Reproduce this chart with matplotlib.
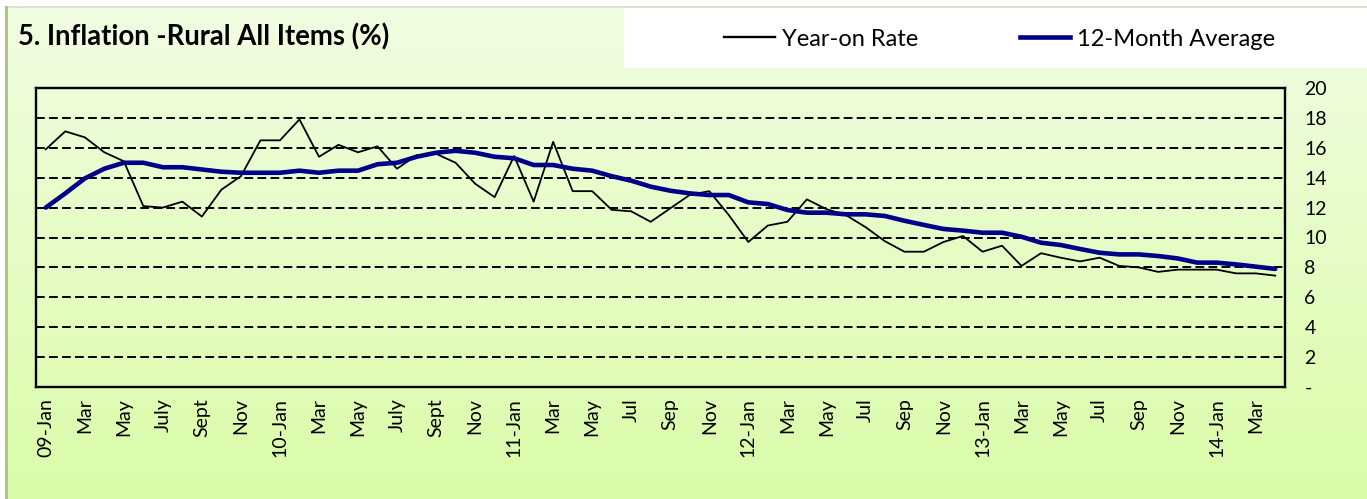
import numpy as np
import matplotlib
matplotlib.use("Agg")
from matplotlib import pyplot as plt
from matplotlib.patches import Rectangle
from matplotlib.lines import Line2D

plt.rcParams['font.family'] = ['Lato', 'DejaVu Sans']

# monthly data, Jan 2009 - Apr 2014
year_on_rate = [15.9, 17.1, 16.7, 15.7, 15.1, 12.1, 12.0, 12.4, 11.4, 13.2, 14.1, 16.5,
                16.5, 17.9, 15.4, 16.2, 15.7, 16.1, 14.6, 15.5, 15.6, 15.0, 13.6, 12.7,
                15.45, 12.4, 16.4, 13.1, 13.1, 11.85, 11.75, 11.05, 11.95, 12.85, 13.1, 11.5,
                9.7, 10.8, 11.05, 12.55, 11.9, 11.5, 10.7, 9.75, 9.05, 9.05, 9.7, 10.1,
                9.05, 9.45, 8.1, 8.95, 8.65, 8.4, 8.65, 8.1, 8.0, 7.7, 7.85, 7.85,
                7.85, 7.6, 7.6, 7.45]
avg_12m = [12.0, 12.95, 13.95, 14.6, 15.0, 15.0, 14.7, 14.7, 14.55, 14.4, 14.33, 14.33,
           14.33, 14.47, 14.33, 14.47, 14.47, 14.9, 15.0, 15.4, 15.67, 15.8, 15.67, 15.4,
           15.3, 14.85, 14.85, 14.6, 14.47, 14.1, 13.8, 13.4, 13.13, 12.95, 12.84, 12.84,
           12.35, 12.24, 11.84, 11.66, 11.66, 11.55, 11.55, 11.44, 11.12, 10.84, 10.57, 10.46,
           10.32, 10.32, 10.05, 9.65, 9.5, 9.23, 8.98, 8.87, 8.87, 8.76, 8.6, 8.32,
           8.32, 8.2, 8.05, 7.9]
tick_labels = ["09-Jan", "Mar", "May", "July", "Sept", "Nov",
               "10-Jan", "Mar", "May", "July", "Sept", "Nov",
               "11-Jan", "Mar", "May", "Jul", "Sep", "Nov",
               "12-Jan", "Mar", "May", "Jul", "Sep", "Nov",
               "13-Jan", "Mar", "May", "Jul", "Sep", "Nov",
               "14-Jan", "Mar"]
y_ticks = [0, 2, 4, 6, 8, 10, 12, 14, 16, 18, 20]
y_labels = ["-"] + [str(v) for v in y_ticks[1:]]

W, H = 1367, 499
fig = plt.figure(figsize=(W / 100, H / 100), dpi=100)
fig.patch.set_facecolor('white')

# background: gradient panel, white legend strip, border lines
bg = fig.add_axes([0, 0, 1, 1])
bg.set_xlim(0, W)
bg.set_ylim(H, 0)
bg.axis('off')
top = np.array([241, 253, 226]) / 255
bot = np.array([218, 252, 168]) / 255
t = np.linspace(0, 1, 200)[:, None]
grad = (top * (1 - t) + bot * t)[:, None, :]
bg.imshow(grad, extent=(6, W, H, 7), aspect='auto', zorder=0)
bg.add_patch(Rectangle((624, 7), W - 624, 61, facecolor='white', edgecolor='none', zorder=1))
bg.plot([6, W], [7, 7], color='#d4dcc4', lw=1.2, zorder=2)
bg.plot([6, 6], [7, H], color='#a6c47e', lw=2, zorder=2)
bg.text(18, 37, "5. Inflation -Rural All Items (%)", fontsize=19.8, fontweight='bold',
        va='center', ha='left', zorder=3)

ax = fig.add_axes([36 / W, 1 - 387 / H, (1285 - 36) / W, (387 - 88) / H])
ax.patch.set_alpha(0)
x = np.arange(len(year_on_rate))

ax.plot(x, year_on_rate, color='black', lw=1.3, zorder=3)
ax.plot(x, avg_12m, color='#000088', lw=3.3, zorder=4, solid_capstyle='round')

for v in y_ticks[1:-1]:
    ax.axhline(v, color='black', lw=1.4, dashes=(4.5, 2.2), zorder=1)

ax.set_xlim(-0.5, len(x) - 0.5)
ax.set_ylim(0, 20)
ax.set_xticks(np.arange(0, len(x), 2))
ax.set_xticklabels(tick_labels, rotation=90, fontsize=14)
ax.set_yticks(y_ticks)
ax.set_yticklabels(y_labels, fontsize=14)
ax.yaxis.tick_right()
ax.tick_params(axis='x', length=0, pad=8)
ax.tick_params(axis='y', length=0, pad=14)
for s in ax.spines.values():
    s.set_linewidth(1.7)
    s.set_color('black')

handles = [Line2D([], [], color='black', lw=1.7),
           Line2D([], [], color='#000088', lw=3.3)]
fig.legend(handles, ["Year-on Rate", "12-Month Average"], loc='center left',
           bbox_to_anchor=(724 / W, 1 - 39 / H), ncol=2, frameon=False,
           fontsize=17, handlelength=2.15, handletextpad=0.3, columnspacing=4.3,
           borderpad=0, borderaxespad=0)

fig.savefig('out.png', dpi=100)
